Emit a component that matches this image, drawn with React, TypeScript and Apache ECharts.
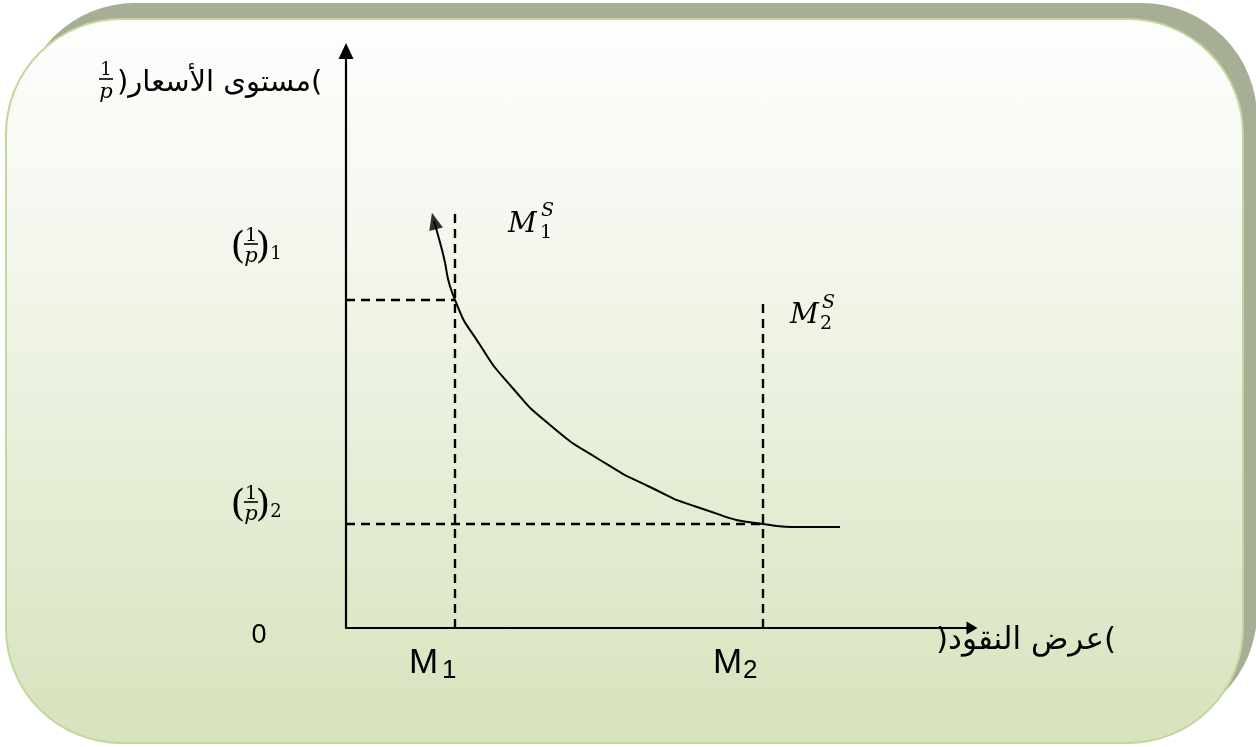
import React, { useEffect, useRef } from "react";
import * as echarts from "echarts";

// ---- data (axis units 0..100) ----
const moneySupply = [17.41, 66.61]; // M1, M2
const priceLevels = [56.85, 18.02]; // (1/p)1, (1/p)2
const supplyTops = [72.79, 57.19]; // top of the dashed M^S lines
const curveX = [14.06, 15.34, 17.41, 21.41, 26.2, 32.59, 40.58, 48.56, 56.55, 66.61, 72.52, 78.91];
const curveY = [70.54, 65.51, 56.85, 49.05, 42.11, 35.18, 29.12, 24.44, 20.8, 18.02, 17.5, 17.5];
const xLabels = ["M", "M"];
const xSubs = ["1", "2"];
const priceSubs = ["1", "2"];
const supplySubs = ["1", "2"];

const SERIF = "DejaVu Serif";
const SANS = "Liberation Sans";
const AR = "DejaVu Sans";

function t(text: string, x: number, y: number, size: number, family: string, opts: any = {}) {
  return {
    type: "text",
    z: 100,
    style: {
      text,
      x,
      y,
      fontSize: size,
      fontFamily: family,
      fontStyle: opts.italic ? "italic" : "normal",
      fill: "#000",
      align: opts.align || "center",
      verticalAlign: opts.va || "middle",
    },
  };
}

function bar(x1: number, x2: number, y: number) {
  return { type: "line", z: 100, shape: { x1, y1: y, x2, y2: y }, style: { stroke: "#000", lineWidth: 1.6 } };
}

function fracLabel(cy: number, sub: string) {
  // (1/p)_sub ; cy = y of fraction bar
  return [
    t("(", 238, cy + 1, 38, SERIF),
    t("1", 251, cy - 10, 19, SERIF),
    bar(244, 258, cy),
    t("p", 251, cy + 11, 21, SERIF, { italic: true }),
    t(")", 263, cy + 1, 38, SERIF),
    t(sub, 276, cy + 8, 18, SERIF),
  ];
}

export default function App() {
  const ref = useRef<HTMLDivElement>(null);
  useEffect(() => {
    if (!ref.current) return;
    const chart = echarts.init(ref.current, null, { renderer: "svg" });
    const dashed = { color: "#000", width: 2.4, type: [9, 6] as any };
    const series: any[] = [];
    moneySupply.forEach((m, i) => {
      series.push({
        type: "line",
        symbol: "none",
        silent: true,
        lineStyle: dashed,
        data: [[m, 0], [m, supplyTops[i]]],
      });
      series.push({
        type: "line",
        symbol: "none",
        silent: true,
        lineStyle: dashed,
        data: [[0, priceLevels[i]], [m, priceLevels[i]]],
      });
    });
    series.push({
      type: "line",
      symbol: "none",
      smooth: 0.6,
      lineStyle: { color: "#000", width: 2 },
      data: curveX.map((x, i) => [x, curveY[i]]),
      z: 5,
    });
    series.push({
      type: "scatter",
      symbol: "triangle",
      symbolSize: [14, 17],
      symbolRotate: 14,
      itemStyle: { color: "#000" },
      data: [[curveX[0], curveY[0]]],
      z: 6,
    });

    const graphic: any[] = [
      {
        type: "rect",
        z: -100,
        shape: { x: 20, y: 3, width: 1237, height: 724, r: 115 },
        style: { fill: "#a6af95" },
      },
      {
        type: "rect",
        z: -99,
        shape: { x: 6, y: 19, width: 1237, height: 724, r: 115 },
        style: {
          fill: new echarts.graphic.LinearGradient(0, 0, 0, 1, [
            { offset: 0, color: "#fefefd" },
            { offset: 0.3, color: "#f4f7ee" },
            { offset: 1, color: "#d6e3bc" },
          ]),
          stroke: "#c3d69b",
          lineWidth: 2,
        },
      },
      // y-axis title
      t("1", 106, 68, 18, SERIF),
      bar(99, 113, 79),
      t("p", 106, 91, 21, SERIF, { italic: true }),
      t(")مستوى الأسعار(", 117, 81, 29, AR, { align: "left" }),
      // y labels
      ...fracLabel(244, priceSubs[0]),
      ...fracLabel(502, priceSubs[1]),
      t("0", 259, 634, 27, SANS),
      // x labels
      t(xLabels[0], 409, 660, 35, SANS, { align: "left" }),
      t(xSubs[0], 442, 669, 26, SANS, { align: "left" }),
      t(xLabels[1], 713, 660, 35, SANS, { align: "left" }),
      t(xSubs[1], 743, 669, 26, SANS, { align: "left" }),
      t(")عرض النقود(", 936, 638, 31, AR, { align: "left" }),
      // supply labels
      t("M", 508, 222, 28, SERIF, { italic: true, align: "left" }),
      t("S", 541, 209, 19, SERIF, { italic: true, align: "left" }),
      t(supplySubs[0], 540, 231, 19, SERIF, { align: "left" }),
      t("M", 790, 313, 28, SERIF, { italic: true, align: "left" }),
      t("S", 822, 301, 19, SERIF, { italic: true, align: "left" }),
      t(supplySubs[1], 820, 322, 19, SERIF, { align: "left" }),
    ];

    chart.setOption({
      animation: false,
      grid: { left: 346, right: 284, top: 51, bottom: 119 },
      xAxis: {
        type: "value",
        min: 0,
        max: 100,
        axisLine: {
          show: true,
          onZero: false,
          symbol: ["none", "triangle"],
          symbolSize: [13, 11],
          lineStyle: { color: "#000", width: 2.2 },
        },
        axisTick: { show: false },
        axisLabel: { show: false },
        splitLine: { show: false },
      },
      yAxis: {
        type: "value",
        min: 0,
        max: 100,
        axisLine: {
          show: true,
          onZero: false,
          symbol: ["none", "triangle"],
          symbolSize: [15, 16],
          lineStyle: { color: "#000", width: 2.2 },
        },
        axisTick: { show: false },
        axisLabel: { show: false },
        splitLine: { show: false },
      },
      graphic,
      series,
    });
    return () => chart.dispose();
  }, []);
  return (
    <div
      ref={ref}
      style={{ position: "fixed", left: 0, top: 0, width: 1256, height: 747 }}
    />
  );
}
